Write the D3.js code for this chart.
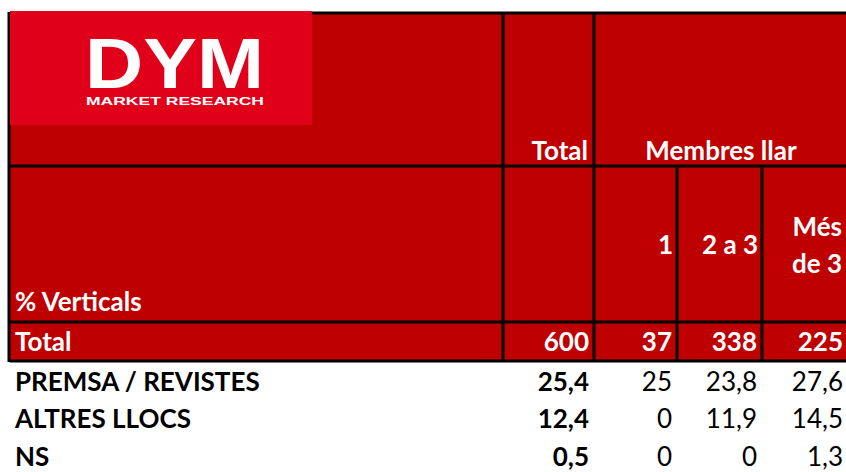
<!DOCTYPE html>
<html>
<head>
<meta charset="utf-8">
<script src="https://d3js.org/d3.v7.min.js"></script>
<style>
body { margin:0; background:#fff; }
text { font-family: Lato, "Open Sans", sans-serif; }
</style>
</head>
<body>
<script>
var width, height
var svg = d3.select("body").append("svg")
var chartLayer = svg.append("g").classed("chartLayer", true)

var red = "#bf0000"
var logoRed = "#e1001a"

main()

function main() {
    var data = {
        // column edges of the sheet (px), first one is the label column
        cols: [10, 503, 594, 677, 762, 846],
        head1: [{label:"Total", from:1, to:2}, {label:"Membres llar", from:2, to:5, center:true}],
        head2: [{col:2, lines:["1"]}, {col:3, lines:["2 a 3"]}, {col:4, lines:["Més", "de 3"]}],
        base: {label:"Total", values:[600, 37, 338, 225]},
        rows: [
            {label:"PREMSA / REVISTES", values:[25.4, 25, 23.8, 27.6]},
            {label:"ALTRES LLOCS", values:[12.4, 0, 11.9, 14.5]},
            {label:"NS", values:[0.5, 0, 0, 1.3]}
        ]
    }
    setSize()
    drawChart(data)
}

function setSize() {
    width = 846
    height = 472
    svg.attr("width", width).attr("height", height)
}

function fmt(v) {
    return String(v).replace(".", ",")
}

function drawChart(data) {
    var cols = data.cols
    var fs = 26

    var hTop = 13, h1 = 166, h2 = 322, hBot = 361

    // base row sits in the red block, data rows below it
    var all = [data.base].concat(data.rows)
    var y = d3.scaleBand()
        .domain(data.rows.map(function(d){ return d.label }))
        .range([hBot + 2, hBot + 2 + 37.5 * data.rows.length])
    var rowY = function(d, i){ return i == 0 ? (h2 + hBot) / 2 : y(d.label) + y.bandwidth() / 2 }

    // header background
    chartLayer.append("rect")
        .attr("x", cols[0]).attr("y", hTop)
        .attr("width", width - cols[0]).attr("height", hBot - hTop)
        .attr("fill", red)

    // logo
    var logo = chartLayer.append("g")
    logo.append("rect")
        .attr("x", 10).attr("y", 11).attr("width", 302).attr("height", 114)
        .attr("fill", logoRed)
    logo.append("text")
        .attr("x", 85).attr("y", 88)
        .attr("textLength", 179).attr("lengthAdjust", "spacingAndGlyphs")
        .style("font-family", "'Liberation Sans', Arial, sans-serif")
        .style("font-weight", "bold").style("font-size", "70px")
        .attr("fill", "#fff").text("DYM")
    logo.append("text")
        .attr("x", 86).attr("y", 104.5)
        .attr("textLength", 178).attr("lengthAdjust", "spacingAndGlyphs")
        .style("font-family", "'Liberation Sans', Arial, sans-serif")
        .style("font-weight", "bold").style("font-size", "10.5px")
        .attr("fill", "#fff").text("MARKET RESEARCH")

    // header row 1
    chartLayer.selectAll(".h1")
        .data(data.head1).enter()
        .append("text")
        .attr("class", "h1")
        .attr("x", function(d){ return d.center ? (cols[d.from] + cols[d.to]) / 2 + 1 : cols[d.to] - 6 })
        .attr("y", 160)
        .attr("text-anchor", function(d){ return d.center ? "middle" : "end" })
        .style("font-weight", "bold").style("font-size", fs + "px")
        .attr("fill", "#fff")
        .text(function(d){ return d.label })

    // header row 2
    var h2g = chartLayer.selectAll(".h2")
        .data(data.head2).enter()
        .append("text")
        .attr("class", "h2")
        .attr("text-anchor", "end")
        .style("font-weight", "bold").style("font-size", fs + "px")
        .attr("fill", "#fff")
    h2g.selectAll("tspan")
        .data(function(d){ return d.lines.map(function(l, i){ return {l:l, i:i, n:d.lines.length, col:d.col} }) })
        .enter().append("tspan")
        .attr("x", function(d){ return cols[d.col + 1] - 4 })
        .attr("y", function(d){ return d.n == 1 ? 254 : 236 + d.i * 37 })
        .text(function(d){ return d.l })

    chartLayer.append("text")
        .attr("x", 15).attr("y", 311)
        .style("font-weight", "bold").style("font-size", fs + "px")
        .attr("fill", "#fff")
        .text("% Verticals")

    // body rows
    var row = chartLayer.selectAll(".row")
        .data(all).enter()
        .append("g")
        .attr("class", "row")
        .attr("transform", function(d, i){ return "translate(0," + rowY(d, i) + ")" })

    row.append("text")
        .attr("x", 15)
        .attr("dy", "0.35em")
        .style("font-weight", "bold").style("font-size", fs + "px")
        .attr("fill", function(d, i){ return i == 0 ? "#fff" : "#000" })
        .text(function(d){ return d.label })

    row.selectAll(".val")
        .data(function(d, i){ return d.values.map(function(v, j){ return {v:v, j:j, base:i == 0} }) })
        .enter().append("text")
        .attr("class", "val")
        .attr("x", function(d){ return cols[d.j + 2] - (d.j == 3 ? 3 : 5) })
        .attr("dy", "0.35em")
        .attr("text-anchor", "end")
        .style("font-weight", function(d){ return d.base || d.j == 0 ? "bold" : "normal" })
        .style("font-size", fs + "px")
        .attr("fill", function(d){ return d.base ? "#fff" : "#000" })
        .text(function(d){ return fmt(d.v) })

    // grid lines of the header block
    var lines = chartLayer.append("g")
        .attr("stroke", "#000").attr("stroke-width", 3)
    var hl = [
        {x1:cols[0], x2:width, y:hTop, from:312},
        {x1:cols[0], x2:width, y:h1},
        {x1:cols[0], x2:width, y:h2},
        {x1:cols[0], x2:width, y:hBot}
    ]
    lines.selectAll(".hl")
        .data(hl).enter().append("line")
        .attr("x1", function(d){ return d.from || d.x1 })
        .attr("x2", function(d){ return d.x2 })
        .attr("y1", function(d){ return d.y })
        .attr("y2", function(d){ return d.y })
    var vl = [
        {x:cols[0] - 1, y1:hTop - 1, y2:hBot + 1},
        {x:cols[1], y1:hTop - 1, y2:hBot + 1},
        {x:cols[2], y1:hTop - 1, y2:hBot + 1},
        {x:cols[3], y1:h1, y2:hBot + 1},
        {x:cols[4], y1:h1, y2:hBot + 1}
    ]
    lines.selectAll(".vl")
        .data(vl).enter().append("line")
        .attr("x1", function(d){ return d.x })
        .attr("x2", function(d){ return d.x })
        .attr("y1", function(d){ return d.y1 })
        .attr("y2", function(d){ return d.y2 })

    // logo sits over the top border
    logo.raise()
}
</script>
</body>
</html>
